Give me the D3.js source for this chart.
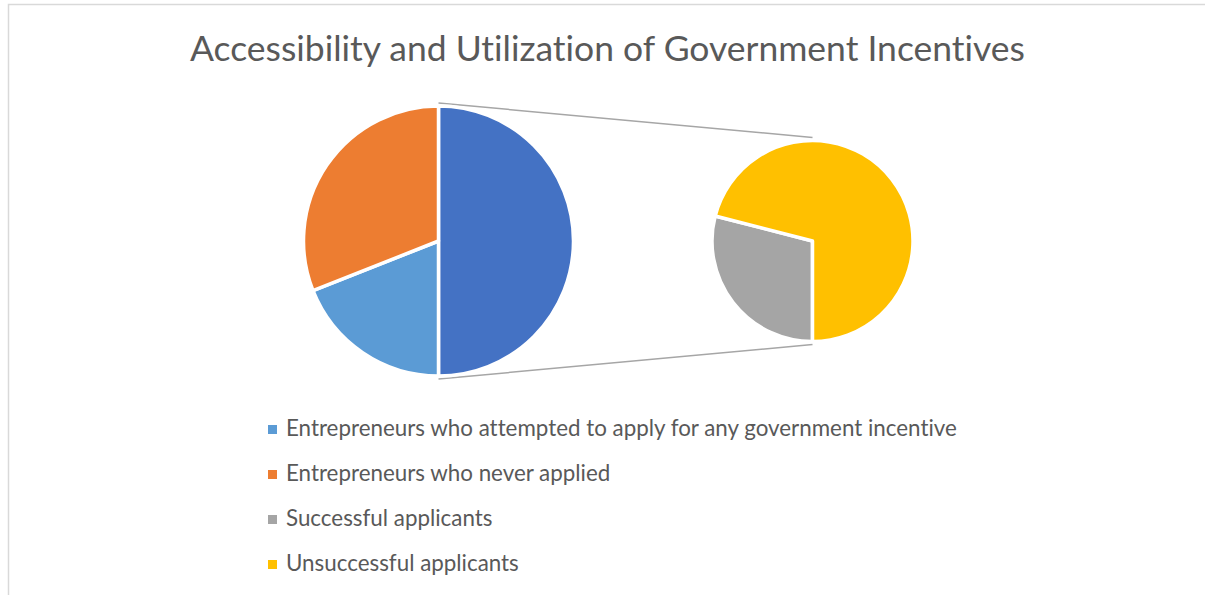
<!DOCTYPE html>
<html>
<head>
<meta charset="utf-8">
<script src="https://cdn.jsdelivr.net/npm/d3@7"></script>
<style>
  html, body { margin: 0; padding: 0; background: #fff; }
  svg { display: block; }
  text {
    font-family: Lato, "Open Sans", sans-serif;
    fill: #595959;
    font-variant-ligatures: none;
    font-feature-settings: "liga" 0, "clig" 0, "dlig" 0;
  }
</style>
</head>
<body>
<svg id="chart" width="1205" height="595"></svg>
<script>
// Survey shares (percent of respondents)
const categories = [
  "Entrepreneurs who attempted to apply for any government incentive",
  "Entrepreneurs who never applied",
  "Successful applicants",
  "Unsuccessful applicants"
];
const values = [19, 31, 14.5, 35.5];
const colors = ["#5B9BD5", "#ED7D31", "#A5A5A5", "#FFC000"];
const otherColor = "#4472C4";
const title = "Accessibility and Utilization of Government Incentives";

// The last two categories are split out into the secondary pie
const splitCount = 2;

const W = 1205, H = 595;
const svg = d3.select("#chart");

// Chart frame
svg.append("path")
  .attr("d", `M8.5,${H} L8.5,4.5 L${W},4.5`)
  .attr("fill", "none")
  .attr("stroke", "#d9d9d9")
  .attr("stroke-width", 1.5);

// Fit a text element's rendered width to a target by scaling the font size
function fitWidth(sel, target) {
  const node = sel.node();
  const w = node.getComputedTextLength();
  const fs = parseFloat(sel.attr("font-size"));
  sel.attr("font-size", fs * target / w);
}

// Title
const titleText = svg.append("text")
  .attr("x", 607.5)
  .attr("y", 61)
  .attr("text-anchor", "middle")
  .attr("font-size", 32)
  .text(title);
fitWidth(titleText, 835);

// Data for primary pie: combined "other" slice first, then the kept categories
const keep = categories.slice(0, categories.length - splitCount).map((c, i) => ({ name: c, value: values[i], color: colors[i] }));
const split = categories.slice(categories.length - splitCount).map((c, i) => {
  const k = categories.length - splitCount + i;
  return { name: c, value: values[k], color: colors[k] };
});
const otherTotal = d3.sum(split, d => d.value);
const primaryData = [{ name: "Other", value: otherTotal, color: otherColor }].concat(keep);

const main = { cx: 438.5, cy: 241, r: 135 };
const second = { cx: 812.5, cy: 241, r: 100.5 };

// Connector lines between the "other" slice and the secondary pie
const connectorGap = 3;
const g = svg.append("g");
g.append("line")
  .attr("x1", main.cx).attr("y1", main.cy - main.r - connectorGap)
  .attr("x2", second.cx).attr("y2", second.cy - second.r - connectorGap)
  .attr("stroke", "#a6a6a6").attr("stroke-width", 1.5);
g.append("line")
  .attr("x1", main.cx).attr("y1", main.cy + main.r + connectorGap)
  .attr("x2", second.cx).attr("y2", second.cy + second.r + connectorGap)
  .attr("stroke", "#a6a6a6").attr("stroke-width", 1.5);

// Primary pie
const pie1 = d3.pie().sort(null).value(d => d.value).startAngle(0).endAngle(2 * Math.PI);
const arc1 = d3.arc().innerRadius(0).outerRadius(main.r);
svg.append("g")
  .attr("transform", `translate(${main.cx},${main.cy})`)
  .selectAll("path")
  .data(pie1(primaryData))
  .join("path")
  .attr("d", arc1)
  .attr("fill", d => d.data.color)
  .attr("stroke", "#fff")
  .attr("stroke-width", 3.5)
  .attr("stroke-linejoin", "round");

// Secondary pie, starting at the bottom
const pie2 = d3.pie().sort(null).value(d => d.value).startAngle(Math.PI).endAngle(3 * Math.PI);
const arc2 = d3.arc().innerRadius(0).outerRadius(second.r);
svg.append("g")
  .attr("transform", `translate(${second.cx},${second.cy})`)
  .selectAll("path")
  .data(pie2(split))
  .join("path")
  .attr("d", arc2)
  .attr("fill", d => d.data.color)
  .attr("stroke", "#fff")
  .attr("stroke-width", 3.5)
  .attr("stroke-linejoin", "round");

// Legend
const legendY = d3.scalePoint().domain(categories).range([436, 571]);
const legend = svg.append("g");
const rows = legend.selectAll("g")
  .data(categories)
  .join("g")
  .attr("transform", d => `translate(0,${legendY(d)})`);
rows.append("rect")
  .attr("x", 268).attr("y", -11)
  .attr("width", 9).attr("height", 9)
  .attr("fill", (d, i) => colors[i]);
const labels = rows.append("text")
  .attr("x", 286).attr("y", 0)
  .attr("font-size", 20)
  .text(d => d);
fitWidth(d3.select(labels.nodes()[0]), 671);
labels.attr("font-size", d3.select(labels.nodes()[0]).attr("font-size"));
</script>
</body>
</html>
